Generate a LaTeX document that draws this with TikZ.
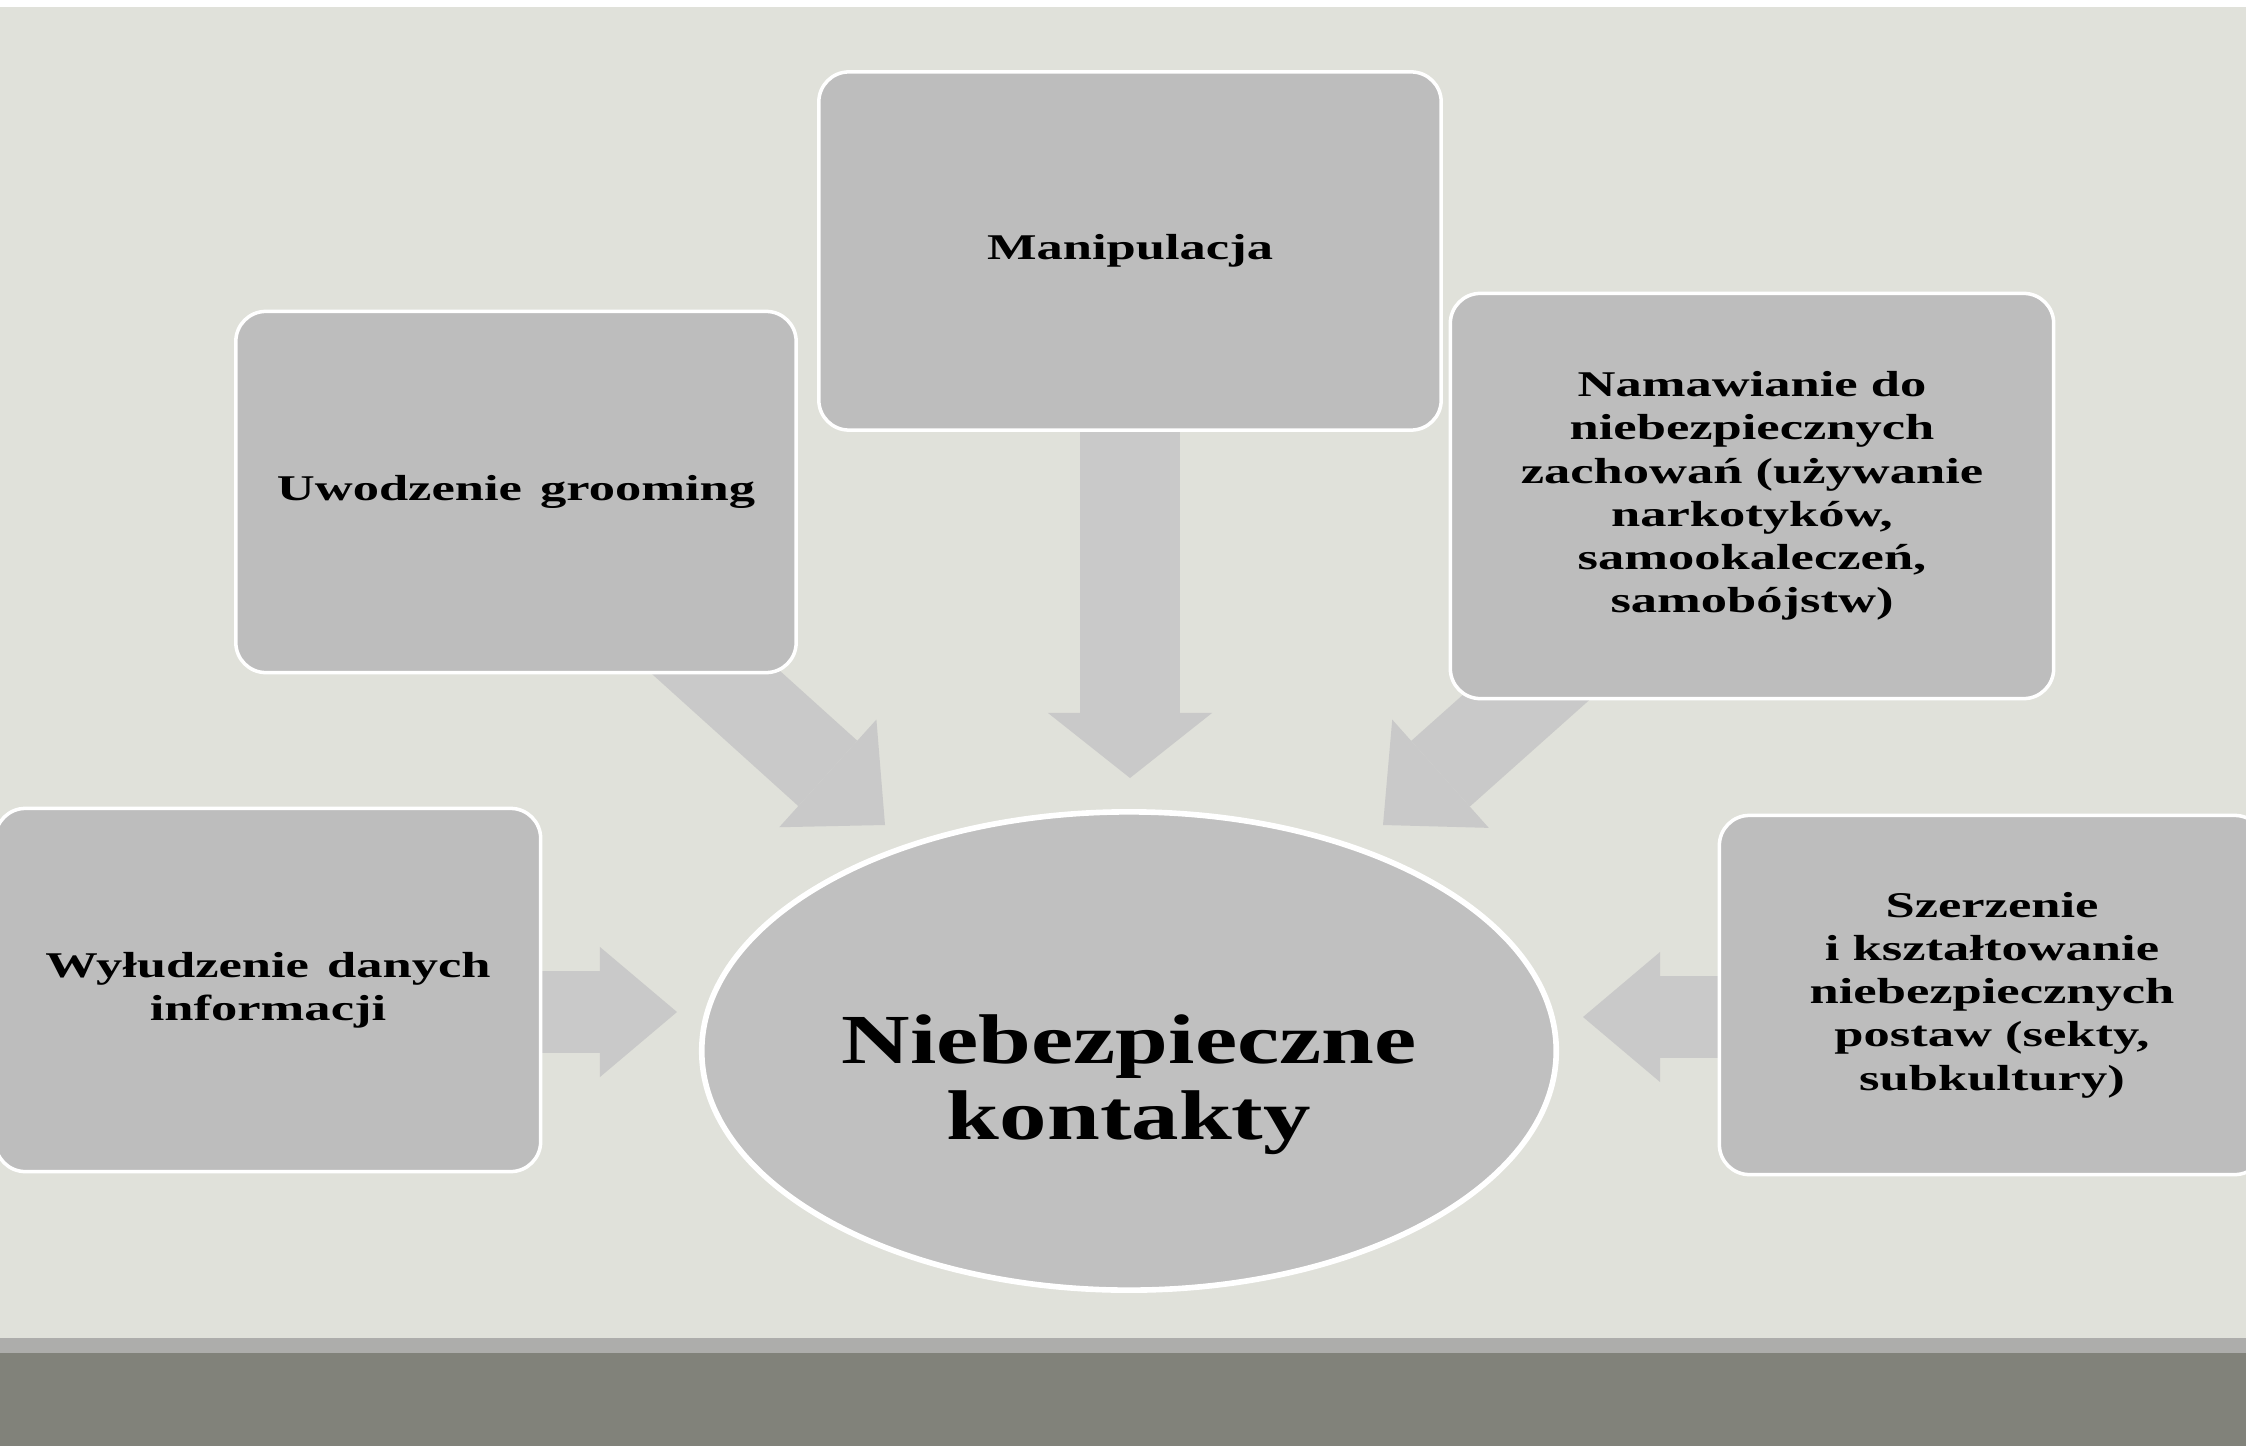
\documentclass[tikz,border=0pt]{standalone}
\usepackage{fontspec}
\setmainfont{Liberation Serif}
\newfontfamily\tilefont{Liberation Serif}[FakeStretch=1.45]
\newfontfamily\hubfont{Liberation Serif}[FakeStretch=1.35]
\usetikzlibrary{shapes.geometric,arrows.meta}
\definecolor{tlo}{HTML}{E0E1DA}
\definecolor{boxgray}{HTML}{BDBDBD}
\definecolor{hubgray}{HTML}{C0C0C0}
\definecolor{arrowgray}{HTML}{C9C9C9}
\definecolor{barlight}{HTML}{ADADAB}
\definecolor{bardark}{HTML}{81827A}
\pgfdeclarelayer{backdrop}
\pgfdeclarelayer{arrows}
\pgfsetlayers{backdrop,arrows,main}
\setlength{\lineskiplimit}{-50pt}

\begin{document}
\begin{tikzpicture}[x=0.01cm,y=-0.01cm,
		tile/.style={draw=white,line width=1pt,fill=boxgray,rounded corners=0.3cm,
			align=center,inner sep=0pt,
			font=\tilefont\bfseries\fontsize{10.3}{12.3}\selectfont},
		hub/.style={ellipse,draw=white,line width=1.6pt,fill=hubgray,align=center,
			inner sep=0pt,
			font=\hubfont\bfseries\fontsize{20}{21.5}\selectfont},
		fat/.style n args={3}{draw=arrowgray,line width=#1,
			-{Triangle[length=#2,width=#3,line width=0pt]}}]
	\useasboundingbox (0,0) rectangle (2246,1446);
	\begin{pgfonlayer}{backdrop}
		\fill[tlo] (0,0) rectangle (2246,1446);
		\fill[white] (0,0) rectangle (2246,7);
		\fill[barlight] (0,1338) rectangle (2246,1353);
		\fill[bardark] (0,1353) rectangle (2246,1446);
	\end{pgfonlayer}

	% boxes round the centre
	\node[tile,minimum width=6.22cm,minimum height=3.58cm] (manip) at (1130,251) {Manipulacja};
	\node[tile,minimum width=5.6cm,minimum height=3.61cm] (uwodz) at (516,492) {Uwodzenie\enspace grooming};
	\node[tile,minimum width=6.03cm,minimum height=4.05cm] (namaw) at (1752,496)
		{Namawianie do\\niebezpiecznych\\zachowań (używanie\\narkotyków,\\samookaleczeń,\\samobójstw)};
	\node[tile,minimum width=5.45cm,minimum height=3.63cm] (wyl) at (268,990)
		{Wyłudzenie\enspace danych\\informacji};
	\node[tile,minimum width=5.45cm,minimum height=3.59cm] (szer) at (1992,995)
		{Szerzenie\\i kształtowanie\\niebezpiecznych\\postaw (sekty,\\subkultury)};
	\node[hub,minimum width=8.54cm,minimum height=4.78cm] (hub) at (1129,1051)
		{\rule{0pt}{33pt}Niebezpieczne\\kontakty};

	\coordinate (tipM) at (1130,778);
	\coordinate (tipU) at (885,825);
	\coordinate (tipN) at (1383,825);
	\coordinate (tipW) at (677,1012);
	\coordinate (tipS) at (1583,1017);

	\begin{pgfonlayer}{arrows}
		\draw[fat={1cm}{0.65cm}{1.64cm}] (manip.center) -- (tipM);
		\draw[fat={0.88cm}{0.77cm}{1.45cm}] (uwodz.center) -- (tipU);
		\draw[fat={0.88cm}{0.77cm}{1.45cm}] (namaw.center) -- (tipN);
		\draw[fat={0.82cm}{0.77cm}{1.3cm}] (wyl.center |- tipW) -- (tipW);
		\draw[fat={0.82cm}{0.77cm}{1.3cm}] (szer.center |- tipS) -- (tipS);
	\end{pgfonlayer}
\end{tikzpicture}
\end{document}
